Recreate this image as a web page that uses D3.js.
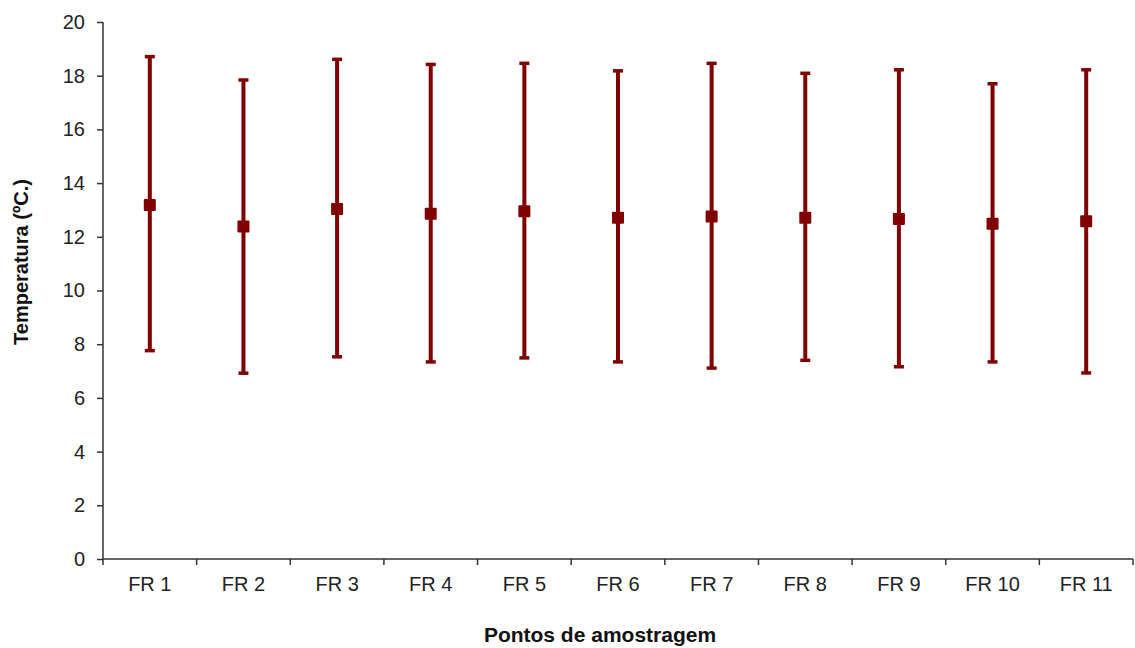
<!DOCTYPE html>
<html>
<head>
<meta charset="utf-8">
<script src="https://cdn.jsdelivr.net/npm/d3@7"></script>
<style>
  body { margin: 0; background: #fff; }
  text { font-family: "Liberation Sans", Arial, sans-serif; }
  .axis path, .axis line { stroke: #333; }
  .axis text { font-size: 20px; fill: #222; }
  .axisTitle { font-weight: bold; fill: #111; }
</style>
</head>
<body>
<div id="plot"></div>
<script>
var points = ["FR 1", "FR 2", "FR 3", "FR 4", "FR 5", "FR 6", "FR 7", "FR 8", "FR 9", "FR 10", "FR 11"];
var meanTemp = [13.18, 12.38, 13.04, 12.86, 12.95, 12.71, 12.76, 12.71, 12.66, 12.49, 12.58];
var maxTemp = [18.71, 17.84, 18.61, 18.42, 18.46, 18.18, 18.46, 18.09, 18.22, 17.70, 18.22];
var minTemp = [7.76, 6.92, 7.53, 7.34, 7.49, 7.34, 7.11, 7.40, 7.16, 7.34, 6.93];
var yTicks = [0, 2, 4, 6, 8, 10, 12, 14, 16, 18, 20];

var svgWidth = 1135;
var svgHeight = 648;

var margin = {
  top: 22,
  right: 2,
  bottom: 89,
  left: 103
};

var width = svgWidth - margin.left - margin.right;
var height = svgHeight - margin.top - margin.bottom;

var svg = d3.select("#plot")
  .append("svg")
  .attr("width", svgWidth)
  .attr("height", svgHeight);

var chartGroup = svg.append("g")
  .attr("transform", `translate(${margin.left}, ${margin.top})`);

var data = points.map(function (p, i) {
  return { point: p, mean: meanTemp[i], max: maxTemp[i], min: minTemp[i] };
});

var xBandScale = d3.scaleBand()
  .domain(points)
  .range([0, width]);

var yLinearScale = d3.scaleLinear()
  .domain([0, 20])
  .range([height, 0]);

var bottomAxis = d3.axisBottom(xBandScale).tickSize(0).tickPadding(18);
var leftAxis = d3.axisLeft(yLinearScale).tickValues(yTicks).tickSize(6).tickPadding(12);

var xAxisGroup = chartGroup.append("g")
  .attr("class", "axis")
  .attr("transform", `translate(0, ${height})`)
  .call(bottomAxis);
xAxisGroup.select(".domain").attr("d", `M0,0H${width}`).attr("stroke-width", 1.5);

// ticks between the categories
xAxisGroup.selectAll(".sep")
  .data(d3.range(points.length + 1))
  .enter()
  .append("line")
  .attr("class", "sep")
  .attr("x1", i => i * xBandScale.step())
  .attr("x2", i => i * xBandScale.step())
  .attr("y1", 0)
  .attr("y2", 6)
  .attr("stroke-width", 1.5);

var yAxisGroup = chartGroup.append("g")
  .attr("class", "axis")
  .call(leftAxis);
yAxisGroup.select(".domain").attr("d", `M0,0V${height}`).attr("stroke-width", 1.5);
yAxisGroup.selectAll(".tick line").attr("stroke-width", 1.5);

var markGroup = chartGroup.selectAll(".mark")
  .data(data)
  .enter()
  .append("g")
  .attr("class", "mark")
  .attr("transform", d => `translate(${xBandScale(d.point) + xBandScale.bandwidth() / 2}, 0)`);

markGroup.append("line")
  .attr("y1", d => yLinearScale(d.min))
  .attr("y2", d => yLinearScale(d.max))
  .attr("stroke", "#800000")
  .attr("stroke-width", 4);

markGroup.selectAll(".cap")
  .data(d => [d.min, d.max])
  .enter()
  .append("line")
  .attr("class", "cap")
  .attr("x1", -5)
  .attr("x2", 5)
  .attr("y1", v => yLinearScale(v))
  .attr("y2", v => yLinearScale(v))
  .attr("stroke", "#800000")
  .attr("stroke-width", 3.5);

markGroup.append("rect")
  .attr("x", -6)
  .attr("y", d => yLinearScale(d.mean) - 6)
  .attr("width", 12)
  .attr("height", 12)
  .attr("rx", 1)
  .attr("fill", "#800000");

svg.append("text")
  .attr("class", "axisTitle")
  .attr("transform", "rotate(-90)")
  .attr("x", -262)
  .attr("y", 28)
  .attr("text-anchor", "middle")
  .style("font-size", "20px")
  .text("Temperatura (ºC.)");

svg.append("text")
  .attr("class", "axisTitle")
  .attr("x", 600)
  .attr("y", 642)
  .attr("text-anchor", "middle")
  .style("font-size", "21px")
  .text("Pontos de amostragem");
</script>
</body>
</html>
